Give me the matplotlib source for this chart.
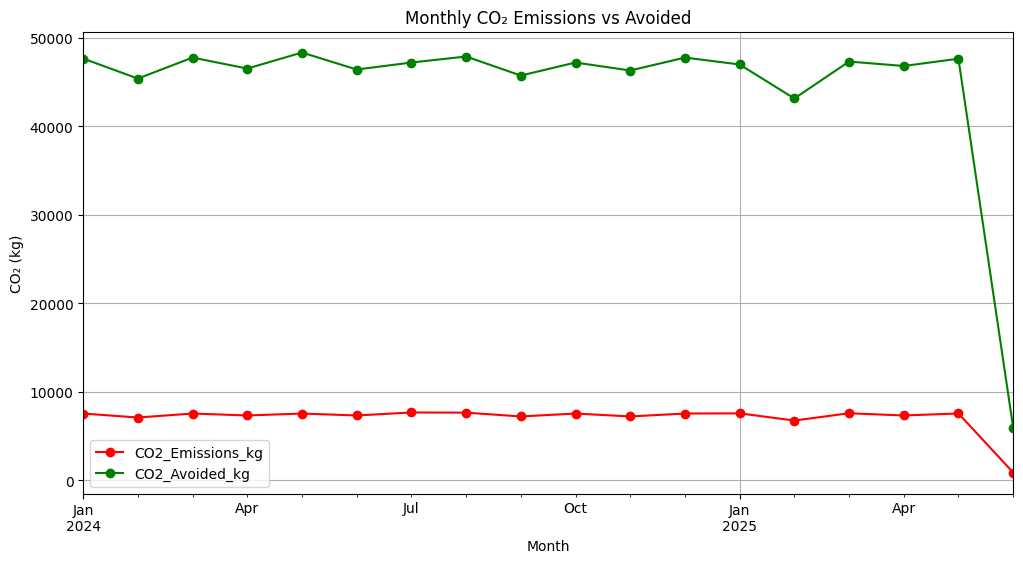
import matplotlib
matplotlib.use("Agg")
import matplotlib.pyplot as plt
import pandas as pd

months = pd.period_range("2024-01", "2025-06", freq="M")

co2_emissions_kg = [7560, 7110, 7560, 7340, 7560, 7340, 7680, 7660, 7230, 7560, 7230, 7560,
                    7580, 6770, 7590, 7340, 7570, 900]
co2_avoided_kg = [47640, 45380, 47750, 46510, 48320, 46400, 47190, 47870, 45720, 47190, 46290, 47750,
                  46970, 43130, 47300, 46800, 47620, 5980]

df = pd.DataFrame(
    {"CO2_Emissions_kg": co2_emissions_kg, "CO2_Avoided_kg": co2_avoided_kg},
    index=months,
)
df.index.name = "Month"

ax = df.plot(marker="o", color=["red", "green"], figsize=(12, 6))
ax.set_title("Monthly CO₂ Emissions vs Avoided")
ax.set_ylabel("CO₂ (kg)")
ax.grid(True)

plt.savefig("out.png", bbox_inches="tight")
plt.close()
